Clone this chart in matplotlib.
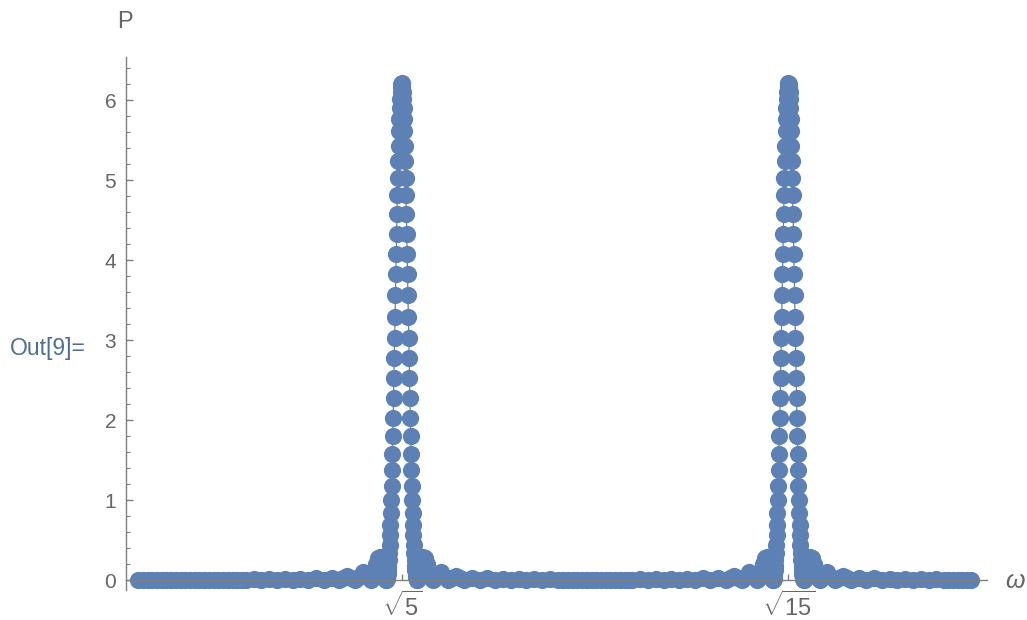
import matplotlib
matplotlib.use("Agg")
import matplotlib.pyplot as plt
from matplotlib.ticker import MultipleLocator

plt.rcParams['font.family'] = ['Liberation Sans', 'DejaVu Sans']
plt.rcParams['mathtext.fontset'] = 'custom'
plt.rcParams['mathtext.rm'] = 'Liberation Sans'
plt.rcParams['mathtext.it'] = 'Liberation Sans:italic'

# ---- data ----
peak_centers = [2.2361, 3.8730]          # sqrt(5), sqrt(15)

# main lobe: offset from the peak centre (omega) and P, one flank
lobe_offset = [0.0, 0.0017, 0.0033, 0.0050, 0.0066, 0.0083, 0.0099, 0.0116, 0.0132, 0.0149,
               0.0165, 0.0182, 0.0198, 0.0215, 0.0231, 0.0248, 0.0264, 0.0281, 0.0297, 0.0314,
               0.0330, 0.0347, 0.0363, 0.0380, 0.0396, 0.0413, 0.0429, 0.0446, 0.0462, 0.0479,
               0.0495, 0.0512, 0.0528, 0.0545, 0.0561, 0.0578, 0.0594, 0.0611, 0.0627, 0.0644,
               0.0660]
lobe_P = [6.21, 6.20, 6.16, 6.10, 6.01, 5.90, 5.76, 5.61, 5.43, 5.24,
          5.03, 4.81, 4.58, 4.33, 4.08, 3.82, 3.56, 3.29, 3.03, 2.77,
          2.52, 2.27, 2.03, 1.80, 1.58, 1.37, 1.18, 1.00, 0.84, 0.69,
          0.56, 0.44, 0.34, 0.25, 0.18, 0.12, 0.074, 0.040, 0.017, 0.004,
          0.0]

# side lobes beside each peak
side_offset = [0.0743, 0.0825, 0.0908, 0.099, 0.1073, 0.1155, 0.1238, 0.132,
               0.1485, 0.165, 0.1815, 0.198,
               0.2145, 0.231, 0.2475, 0.264, 0.297, 0.330, 0.363, 0.396,
               0.429, 0.462, 0.495, 0.528, 0.561, 0.594, 0.627, 0.660]
side_P = [0.073, 0.20, 0.284, 0.28, 0.203, 0.10, 0.026, 0.0,
          0.062, 0.10, 0.042, 0.0,
          0.030, 0.051, 0.022, 0.0, 0.031, 0.0, 0.021, 0.0,
          0.015, 0.0, 0.011, 0.0, 0.009, 0.0, 0.007, 0.0]

# flat baseline stretches
base_omega = [1.118, 1.14, 1.16, 1.18, 1.20, 1.22, 1.24, 1.26, 1.28, 1.30, 1.32, 1.34,
              1.36, 1.38, 1.40, 1.42, 1.44, 1.46, 1.48, 1.50, 1.52, 1.54, 1.56,
              2.92, 2.94, 2.96, 2.98, 3.00, 3.02, 3.04, 3.06, 3.08, 3.10, 3.12, 3.14,
              3.16, 3.18, 3.20,
              4.55, 4.57, 4.59, 4.61, 4.63, 4.648]
base_P = [0.0, 0.0, 0.0, 0.0, 0.0, 0.0, 0.0, 0.0, 0.0, 0.0, 0.0, 0.0,
          0.0, 0.0, 0.0, 0.0, 0.0, 0.0, 0.0, 0.0, 0.0, 0.0, 0.0,
          0.0, 0.0, 0.0, 0.0, 0.0, 0.0, 0.0, 0.0, 0.0, 0.0, 0.0, 0.0,
          0.0, 0.0, 0.0,
          0.0, 0.0, 0.0, 0.0, 0.0, 0.0]

xtick_pos = peak_centers
xtick_labels = [r'$\sqrt{5}$', r'$\sqrt{15}$']
yticks = [0, 1, 2, 3, 4, 5, 6]

# ---- assemble the point list ----
pts = list(zip(base_omega, base_P))
for c in peak_centers:
    for o, p in zip(lobe_offset, lobe_P):
        pts.append((c - o, p))
        if o > 0:
            pts.append((c + o, p))
    for o, p in zip(side_offset, side_P):
        pts.append((c - o, p))
        pts.append((c + o, p))
pts.sort()
xs = [p[0] for p in pts]
ys = [p[1] for p in pts]

blue = '#5E81B5'
gray = '#666666'
axcol = '#808080'

fig = plt.figure(figsize=(10.27, 6.2), dpi=100)
ax = fig.add_axes([126/1027, (620-590)/620, (987-126)/1027, (590-57)/620])
ax.plot(xs, ys, '-', color=blue, lw=0.9, marker='o', ms=12.4, mec='none', mfc=blue, zorder=2)

ax.set_xlim(1.0689, 4.714)
ax.set_ylim(-0.125, 6.5375)

for s in ['top', 'right']:
    ax.spines[s].set_visible(False)
ax.spines['bottom'].set_position(('data', 0))
ax.spines['left'].set_position(('data', 1.0689))
for s in ['bottom', 'left']:
    ax.spines[s].set_color(axcol)
    ax.spines[s].set_linewidth(1.0)
    ax.spines[s].set_zorder(3)

ax.set_yticks(yticks)
ax.yaxis.set_minor_locator(MultipleLocator(0.2))
ax.set_xticks(xtick_pos)
ax.set_xticklabels(xtick_labels)
ax.tick_params(axis='y', which='major', direction='in', length=5, width=1, color=axcol,
               labelsize=15, labelcolor=gray, pad=7)
ax.tick_params(axis='y', which='minor', direction='in', length=3, width=0.8, color=axcol)
ax.tick_params(axis='x', which='major', direction='in', length=4, width=1, color=axcol,
               labelsize=17, labelcolor=gray, pad=8)
ax.patch.set_visible(False)

fig.text(125/1027, 1-22/620, 'P', ha='center', va='center', fontsize=17, color=gray)
fig.text(1015/1027, 1-581/620, 'ω', ha='center', va='center', fontsize=18, color=gray,
         style='italic')
fig.text(10/1027, 1-349/620, 'Out[9]=', ha='left', va='center', fontsize=16.5, color='#4D6E93')

fig.savefig('out.png', dpi=100)
